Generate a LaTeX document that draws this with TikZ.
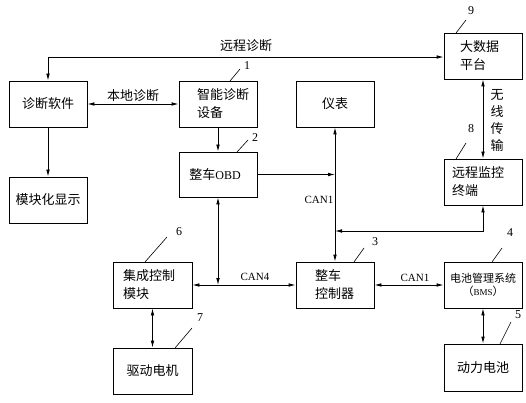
\documentclass[tikz,border=0pt]{standalone}
\usepackage{fontspec}
\setmainfont{Liberation Serif}
\newfontfamily\cjk{Noto Sans CJK SC}
\usetikzlibrary{arrows.meta,calc}
\begin{document}
\begin{tikzpicture}[x=1pt,y=-1pt,
  box/.style={draw, line width=0.8pt, minimum width=78pt, minimum height=46pt, inner sep=0pt,
    font=\cjk\fontsize{13}{18}\selectfont},
  lbox/.style={box, align=left},
  con/.style={line width=0.8pt},
  arr/.style={con, -{Latex[length=7pt,width=3.6pt]}},
  darr/.style={con, {Latex[length=7pt,width=3.6pt]}-{Latex[length=7pt,width=3.6pt]}},
  lab/.style={font=\cjk\fontsize{13}{17}\selectfont, inner sep=0pt},
  canlab/.style={font=\fontsize{11}{13}\selectfont, inner sep=0pt},
  num/.style={font=\fontsize{12}{14}\selectfont, inner sep=0pt},
  lead/.style={line width=0.6pt}]
\useasboundingbox[fill=white] (0,0) rectangle (526,403);

% boxes
\node[box] (ds) at (48,104) {诊断软件};
\node[box] (mk) at (48,200) {模块化显示};
\node[lbox, inner xsep=18pt, text width=42pt] (zn) at (218,104) {智能诊断\\设备};
\node[box, minimum height=45pt] (obd) at (218,174.5) {整车{\rmfamily\fontsize{12}{14}\selectfont OBD}\hspace*{6pt}};
\node[box] (yb) at (335,104) {仪表};
\node[lbox, inner xsep=16pt, text width=46pt] (dsj) at (483,56) {大数据\\平台};
\node[lbox, inner xsep=8pt, text width=62pt] (yc) at (483,182) {远程监控\\终端};
\node[lbox, minimum width=79pt, inner xsep=10pt, text width=59pt] (jc) at (152.5,285) {集成控制\\模块};
\node[box, minimum width=79pt] (qd) at (152.5,371) {驱动电机};
\node[lbox, inner xsep=19pt, text width=40pt] (zc) at (335,285) {整车\\控制器};
\node[box, align=center, font=\cjk\fontsize{11}{13}\selectfont] (bms) at (483,285) {电池管理系统\\（{\rmfamily\fontsize{9}{11}\selectfont BMS}）};
\node[box, minimum height=47pt] (dl) at (483,367.5) {动力电池};

% remote diagnosis
\coordinate (rc) at (48,57);
\draw[arr] (rc) -- (ds.north);
\draw[arr] (rc) -- (rc -| dsj.west);
\node[lab] (lrc) at (246,46) {远程诊断};

% local diagnosis
\draw[darr] (ds.east) -- (zn.west);
\node[lab] (lbd) at (133,96) {本地诊断};

\draw[arr] (ds.south) -- (mk.north);
\draw[arr] (zn.south) -- (obd.north);

% CAN1 vertical bus
\draw[darr] (yb.south) -- (zc.north);
\node[canlab] (lcan1v) at (319,200) {CAN1};
\draw[arr] (obd.east) -- (obd.east -| yb.south);

% remote monitor terminal to bus
\coordinate (j2) at (483,231);
\draw[darr] (yc.south) -- (j2) -- (j2 -| yb.south);

% wireless
\draw[darr] (dsj.south) -- (yc.north);
\node[lab, align=center] (lwx) at (497,120) {无\\线\\传\\输};

% CAN4
\draw[darr] (obd.south) -- (obd.south |- jc.east);
\draw[darr] (jc.east) -- (zc.west);
\node[canlab] (lcan4) at (255,277) {CAN4};

% CAN1 horizontal
\draw[darr] (zc.east) -- (bms.west);
\node[canlab] (lcan1h) at (415,278) {CAN1};

\draw[darr] (bms.south) -- (dl.north);
\draw[darr] (jc.south) -- (qd.north);

% number leaders
\coordinate (a1) at (230,81);  \coordinate (b1) at (240,69);  \node[num] (n1) at (247,66) {1};
\coordinate (a2) at (237,152); \coordinate (b2) at (248,140); \node[num] (n2) at (255,138) {2};
\coordinate (a9) at (456,33);  \coordinate (b9) at (466,20);  \node[num] (n9) at (471,11) {9};
\coordinate (a8) at (456,159); \coordinate (b8) at (466,143); \node[num] (n8) at (471,129) {8};
\coordinate (a6) at (145,262); \coordinate (b6) at (167,237); \node[num] (n6) at (179,232) {6};
\coordinate (a7) at (175,348); \coordinate (b7) at (192,328); \node[num] (n7) at (200,318) {7};
\coordinate (a3) at (354,262); \coordinate (b3) at (364,248); \node[num] (n3) at (375,242) {3};
\coordinate (a4) at (492,262); \coordinate (b4) at (502,248); \node[num] (n4) at (510,233) {4};
\coordinate (a5) at (500,344); \coordinate (b5) at (511,322); \node[num] (n5) at (518,315) {5};
\foreach \k in {1,2,9,8,6,7,3,4,5} {\draw[lead] (a\k) -- (b\k);}
\end{tikzpicture}
\end{document}
